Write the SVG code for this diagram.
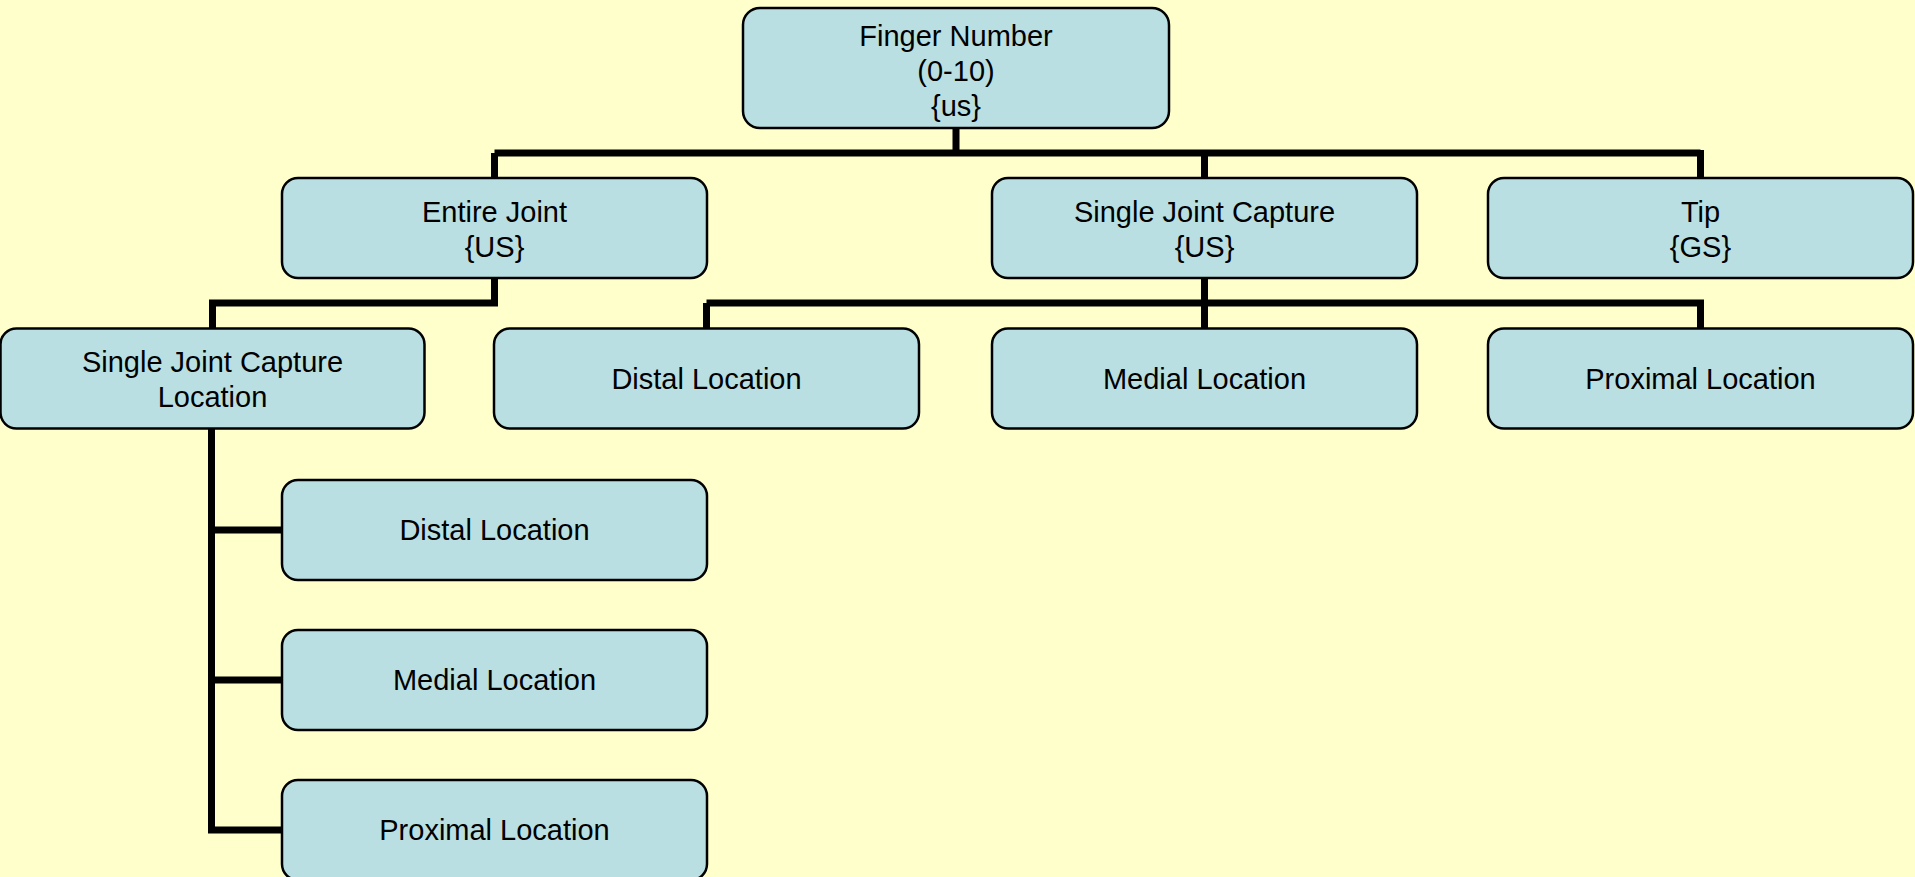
<svg xmlns="http://www.w3.org/2000/svg" width="1915" height="877" viewBox="0 0 1915 877">
<style>
.box{fill:#B9DFE3;stroke:#000;stroke-width:2.5}
.lbl{font-family:"Liberation Sans",Arial,sans-serif;font-size:29px;fill:#000;text-anchor:middle}
.con{fill:none;stroke:#000;stroke-width:7;stroke-linejoin:miter;stroke-linecap:butt}
</style>
<rect x="0" y="0" width="1915" height="877" fill="#FFFFCC"/>
<g id="connectors">
<path class="con" d="M956 128V153M494.5 153H1700.5M494.5 153V178M1204.5 153V178M1700.5 150V178"/>
<path class="con" d="M494.5 278V303H212.5V328.5"/>
<path class="con" d="M1204.5 278V328.5M706.5 303H1700.5M706.5 303V328.5M1700.5 299.5V328.5"/>
<path class="con" d="M211.5 429V833.5M208 530H282M208 680H282M208 830H282"/>
</g>
<g id="n-root"><rect class="box" x="743" y="8" width="426" height="120" rx="17"/><text class="lbl" x="956" y="46">Finger Number</text><text class="lbl" x="956" y="81">(0-10)</text><text class="lbl" x="956" y="116">{us}</text></g>
<g id="n-entire"><rect class="box" x="282" y="178" width="425" height="100" rx="16"/><text class="lbl" x="494.5" y="222">Entire Joint</text><text class="lbl" x="494.5" y="257">{US}</text></g>
<g id="n-sjc"><rect class="box" x="992" y="178" width="425" height="100" rx="16"/><text class="lbl" x="1204.5" y="222">Single Joint Capture</text><text class="lbl" x="1204.5" y="257">{US}</text></g>
<g id="n-tip"><rect class="box" x="1488" y="178" width="425" height="100" rx="16"/><text class="lbl" x="1700.5" y="222">Tip</text><text class="lbl" x="1700.5" y="257">{GS}</text></g>
<g id="n-sjcl"><rect class="box" x="0.5" y="328.5" width="424" height="100" rx="16"/><text class="lbl" x="212.5" y="372">Single Joint Capture</text><text class="lbl" x="212.5" y="407">Location</text></g>
<g id="n-distal1"><rect class="box" x="494" y="328.5" width="425" height="100" rx="16"/><text class="lbl" x="706.5" y="389">Distal Location</text></g>
<g id="n-medial1"><rect class="box" x="992" y="328.5" width="425" height="100" rx="16"/><text class="lbl" x="1204.5" y="389">Medial Location</text></g>
<g id="n-proximal1"><rect class="box" x="1488" y="328.5" width="425" height="100" rx="16"/><text class="lbl" x="1700.5" y="389">Proximal Location</text></g>
<g id="n-distal2"><rect class="box" x="282" y="480" width="425" height="100" rx="16"/><text class="lbl" x="494.5" y="540">Distal Location</text></g>
<g id="n-medial2"><rect class="box" x="282" y="630" width="425" height="100" rx="16"/><text class="lbl" x="494.5" y="690">Medial Location</text></g>
<g id="n-proximal2"><rect class="box" x="282" y="780" width="425" height="100" rx="16"/><text class="lbl" x="494.5" y="840">Proximal Location</text></g>
</svg>
